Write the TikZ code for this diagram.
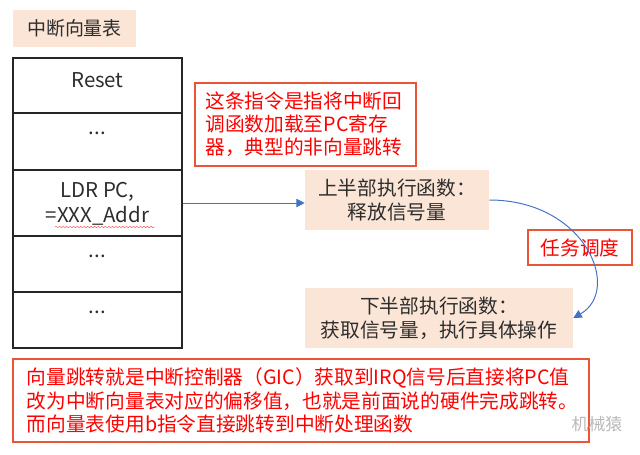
\documentclass[tikz,border=0pt]{standalone}
\usepackage{fontspec}
\setmainfont{Noto Sans CJK SC}
\usetikzlibrary{arrows.meta,decorations.pathmorphing}
\definecolor{peach}{RGB}{251,229,214}
\definecolor{boxred}{RGB}{235,85,55}
\definecolor{txtred}{RGB}{255,0,0}
\definecolor{arrowblue}{RGB}{68,114,196}
\definecolor{txtgray}{RGB}{45,45,45}
\begin{document}
\begin{tikzpicture}[x=0.025cm,y=-0.025cm,font=\fontsize{14}{17}\selectfont,
  cell/.style={draw=black!85,line width=1.1pt,minimum width=4.225cm,inner sep=0pt},
  celltext/.style={anchor=base,text=txtgray,inner sep=0pt,font=\fontsize{14.5}{17}\selectfont},
  peachbox/.style={fill=peach,text=txtgray,align=center,inner sep=0pt},
  notebox/.style={draw=boxred,line width=1.1pt,text=txtred,inner sep=0pt,font=\fontsize{14}{16.5}\selectfont},
  link/.style={arrowblue,line width=0.7pt,-{Triangle[width=6pt,length=6pt]}}]
  \useasboundingbox (0,0) rectangle (640,455);
  % title of the table
  \node[peachbox,minimum width=3.075cm,minimum height=0.925cm,font=\fontsize{13.5}{17}\selectfont] (title) at (74.5,28.5) {中断向量表};
  % vector table rows
  \node[cell,minimum height=1.375cm] (r1) at (97.5,85.5) {};
  \node[cell,minimum height=1.425cm] (r2) at (97.5,141.5) {};
  \node[cell,minimum height=1.65cm] (r3) at (97.5,203) {};
  \node[cell,minimum height=1.4cm] (r4) at (97.5,264) {};
  \node[cell,minimum height=1.4cm] (r5) at (97.5,320) {};
  \node[celltext] (t1) at (97.5,87) {Reset};
  \node[celltext] (t2) at (97.5,134) {...};
  \node[celltext] (t3) at (97.5,197) {LDR PC,};
  \node[celltext] (t3b) at (97.5,222) {=XXX\_Addr};
  \node[celltext] (t4) at (97.5,257) {...};
  \node[celltext] (t5) at (97.5,313) {...};
  % spell-check squiggle
  \draw[txtred!70,line width=0.3pt,decorate,decoration={snake,amplitude=0.5pt,segment length=2.5pt}] (55,227) -- (155,227);
  % notes
  \node[notebox,minimum width=5.525cm,minimum height=2.075cm,text width=5cm,inner xsep=0.2625cm,align=left] (why) at (305.5,124.5)
    {这条指令是指将中断回\\调函数加载至PC寄存\\器，典型的非向量跳转};
  \node[notebox,minimum width=2.6cm,minimum height=0.875cm] (sched) at (580,247.5) {任务调度};
  % handlers
  \node[peachbox,minimum width=4.6cm,minimum height=1.5cm] (top) at (397,200) {上半部执行函数：\\释放信号量};
  \node[peachbox,minimum width=6.7cm,minimum height=1.5cm] (bottom) at (439,318) {下半部执行函数：\\获取信号量，执行具体操作};
  \draw[link] (r3.east) -- (r3.east -| top.west);
  \draw[link] (top.east) .. controls +(96,0) and +(49,-28) .. (bottom.east);
  % explanation
  \node[notebox,minimum width=14.4cm,minimum height=2.075cm,text width=13.7cm,inner xsep=0.35cm,align=left] (gic) at (301,400.5)
    {向量跳转就是中断控制器（GIC）获取到IRQ信号后直接将PC值\\改为中断向量表对应的偏移值，也就是前面说的硬件完成跳转。\\而向量表使用b指令直接跳转到中断处理函数};
  \node[text=gray!55,font=\fontsize{12}{12}\selectfont] (mark) at (597,424) {机械猿};
\end{tikzpicture}
\end{document}
